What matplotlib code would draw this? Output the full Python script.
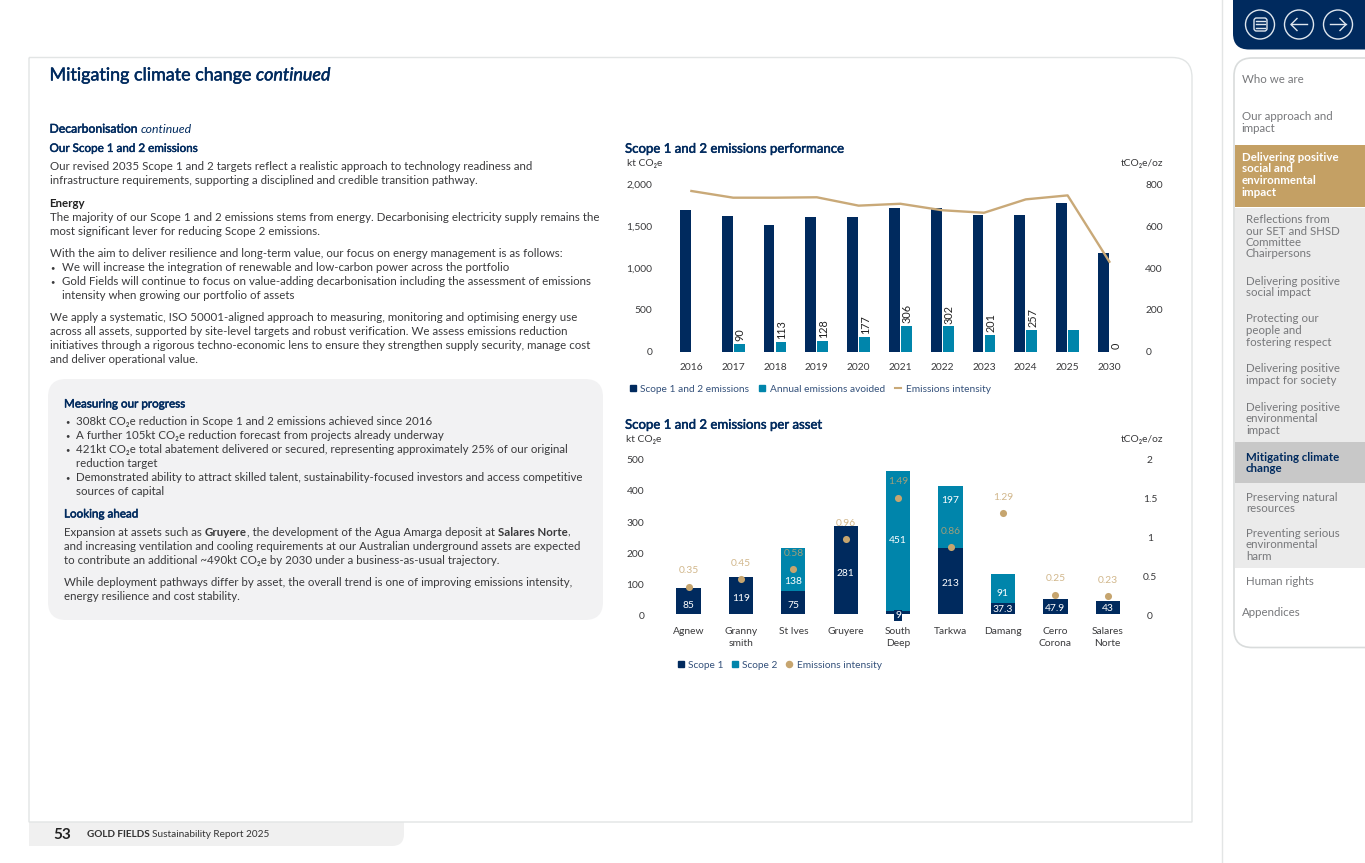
import matplotlib
matplotlib.use("Agg")
import matplotlib.pyplot as plt
import matplotlib.patheffects as pe
from matplotlib.lines import Line2D
from matplotlib.patches import PathPatch, Circle, Rectangle, FancyBboxPatch
from matplotlib.path import Path
from matplotlib.transforms import ScaledTranslation

plt.rcParams['font.family'] = ['Lato', 'DejaVu Sans']

# chart 1 data
years = ["2016", "2017", "2018", "2019", "2020", "2021", "2022", "2023", "2024", "2025", "2030"]
total_emissions = [1690, 1625, 1510, 1613, 1613, 1717, 1713, 1637, 1637, 1781, 1179]
avoided = [0, 90, 113, 128, 177, 306, 302, 201, 257, 255, 0]
avoided_labels = ["", "90", "113", "128", "177", "306", "302", "201", "257", "", "0"]
intensity_line = [768, 736, 736, 738, 698, 707, 676, 664, 728, 747, 430]

# chart 2 data
assets = ["Agnew", "Granny\nsmith", "St Ives", "Gruyere", "South\nDeep", "Tarkwa", "Damang", "Cerro\nCorona", "Salares\nNorte"]
scope1 = [85, 119, 75, 281, 9, 213, 37.3, 47.9, 43]
scope2 = [0, 0, 138, 0, 451, 197, 91, 0, 0]
intensity_dots = [0.35, 0.45, 0.58, 0.96, 1.49, 0.86, 1.29, 0.25, 0.23]

NAVY = "#002a5e"
TEAL = "#0085ab"
TAN = "#c6a56f"
TXT = "#3a3a3c"
NAVTXT = "#77787b"
HEAD = "medium"  # Lato has no medium here, text_line thickens it with a thin stroke

W, H = 1365, 863
BODY = 8.3
CHART = 7.4
fig = plt.figure(figsize=(W / 100, H / 100), dpi=100, facecolor="white")
page = fig.add_axes([0, 0, 1, 1], zorder=0)
page.set_xlim(0, W)
page.set_ylim(H, 0)
page.axis("off")
renderer = fig.canvas.get_renderer()


def round_box(x0, y0, x1, y1, tl=0, tr=0, br=0, bl=0, **kw):
    v = [(x0 + tl, y0), (x1 - tr, y0), (x1, y0), (x1, y0 + tr), (x1, y1 - br), (x1, y1), (x1 - br, y1),
         (x0 + bl, y1), (x0, y1), (x0, y1 - bl), (x0, y0 + tl), (x0, y0), (x0 + tl, y0)]
    c = [Path.MOVETO, Path.LINETO, Path.CURVE3, Path.CURVE3, Path.LINETO, Path.CURVE3, Path.CURVE3,
         Path.LINETO, Path.CURVE3, Path.CURVE3, Path.LINETO, Path.CURVE3, Path.CURVE3]
    page.add_patch(PathPatch(Path(v, c), **kw))


def text_line(x, y, parts, size=BODY, color=TXT):
    # y is the middle of the line, parts is a string or a list of (text, weight, style)
    if isinstance(parts, str):
        parts = [(parts, "normal", "normal")]
    for s, weight, style in parts:
        t = page.text(x, y + size * 0.5, s, fontsize=size, color=color,
                      fontweight="normal" if weight == HEAD else weight, fontstyle=style,
                      va="baseline", ha="left")
        if weight == HEAD:
            t.set_path_effects([pe.withStroke(linewidth=0.35, foreground=color)])
        x += t.get_window_extent(renderer).width


# page furniture
page.plot([1221.5, 1221.5], [0, H], color="#e3e5e5", lw=1)
round_box(29, 822, 404, 846, br=12, facecolor="#f0f0f0", edgecolor="none")
round_box(29, 57.5, 1192, 822, tr=20, facecolor="white", edgecolor="#e2e5e5", lw=1)
round_box(48, 379, 603, 620, tl=18, tr=18, br=18, bl=18, facecolor="#f2f2f3", edgecolor="none")

round_box(1233, -5, 1370, 49.5, bl=16, facecolor=NAVY, edgecolor="none")
round_box(1234, 58, 1375, 647.5, tl=18, bl=18, facecolor="white", edgecolor="#d9dcdc", lw=1.2)
page.add_patch(Rectangle((1234.5, 145.5), 131, 62, facecolor="#c4a064", edgecolor="none"))
page.add_patch(Rectangle((1234.5, 207.5), 131, 360, facecolor="#ebebeb", edgecolor="none"))
page.add_patch(Rectangle((1234.5, 441.5), 131, 41.5, facecolor="#c8c8c8", edgecolor="none"))

for cx in [1260, 1299, 1338]:
    page.add_patch(Circle((cx, 24.5), 14.5, facecolor="none", edgecolor="#dfe6ee", lw=1))
page.add_patch(FancyBboxPatch((1254, 18), 13, 13, boxstyle="round,pad=0,rounding_size=2.5",
                              facecolor="none", edgecolor="#dfe6ee", lw=1))
for yy in [21, 24.5, 28]:
    page.plot([1258, 1265], [yy, yy], color="#dfe6ee", lw=1)
    page.plot([1255.5, 1256.5], [yy, yy], color="#dfe6ee", lw=1)
page.plot([1291, 1307], [24.5, 24.5], color="#dfe6ee", lw=1)
page.plot([1297, 1291, 1297], [18.5, 24.5, 30.5], color="#dfe6ee", lw=1)
page.plot([1330, 1346], [24.5, 24.5], color="#dfe6ee", lw=1)
page.plot([1340, 1346, 1340], [18.5, 24.5, 30.5], color="#dfe6ee", lw=1)

# left hand text
text_line(49.5, 74, [("Mitigating climate change ", HEAD, "normal"), ("continued", HEAD, "italic")], size=12.9, color=NAVY)
text_line(49.5, 128.3, [("Decarbonisation ", HEAD, "normal"), ("continued", "normal", "italic")], size=8.8, color=NAVY)
text_line(49.5, 147.7, [("Our Scope 1 and 2 emissions", HEAD, "normal")], size=8.4, color=NAVY)
text_line(49.5, 202.7, [("Energy", "bold", "normal")], color="#222222")

body_lines = [
    (49.5, 166, "Our revised 2035 Scope 1 and 2 targets reflect a realistic approach to technology readiness and"),
    (49.5, 180, "infrastructure requirements, supporting a disciplined and credible transition pathway."),
    (49.5, 216.7, "The majority of our Scope 1 and 2 emissions stems from energy. Decarbonising electricity supply remains the"),
    (49.5, 230.7, "most significant lever for reducing Scope 2 emissions."),
    (49.5, 253.3, "With the aim to deliver resilience and long-term value, our focus on energy management is as follows:"),
    (61.5, 267.3, "We will increase the integration of renewable and low-carbon power across the portfolio"),
    (61.5, 281.3, "Gold Fields will continue to focus on value-adding decarbonisation including the assessment of emissions"),
    (61.5, 295.3, "intensity when growing our portfolio of assets"),
    (49.5, 317.3, "We apply a systematic, ISO 50001-aligned approach to measuring, monitoring and optimising energy use"),
    (49.5, 331.3, "across all assets, supported by site-level targets and robust verification. We assess emissions reduction"),
    (49.5, 345.3, "initiatives through a rigorous techno-economic lens to ensure they strengthen supply security, manage cost"),
    (49.5, 359.3, "and deliver operational value."),
    (76, 421, "308kt CO₂e reduction in Scope 1 and 2 emissions achieved since 2016"),
    (76, 435.3, "A further 105kt CO₂e reduction forecast from projects already underway"),
    (76, 449.3, "421kt CO₂e total abatement delivered or secured, representing approximately 25% of our original"),
    (76, 463.3, "reduction target"),
    (76, 477, "Demonstrated ability to attract skilled talent, sustainability-focused investors and access competitive"),
    (76, 491.3, "sources of capital"),
    (64, 546, "and increasing ventilation and cooling requirements at our Australian underground assets are expected"),
    (64, 560, "to contribute an additional ~490kt CO₂e by 2030 under a business-as-usual trajectory."),
    (64, 582.3, "While deployment pathways differ by asset, the overall trend is one of improving emissions intensity,"),
    (64, 595.7, "energy resilience and cost stability."),
]
for x, y, s in body_lines:
    text_line(x, y, s)
for x, y in [(50, 267.3), (50, 281.3), (65, 421), (65, 435.3), (65, 449.3), (65, 477)]:
    text_line(x, y, "•", size=5.5)
text_line(64, 403.3, [("Measuring our progress", HEAD, "normal")], size=8.4, color=NAVY)
text_line(64, 513.3, [("Looking ahead", HEAD, "normal")], size=8.4, color=NAVY)
text_line(64, 531.7, [("Expansion at assets such as ", "normal", "normal"), ("Gruyere", "bold", "normal"),
                      (", the development of the Agua Amarga deposit at ", "normal", "normal"),
                      ("Salares Norte", "bold", "normal"), (",", "normal", "normal")])

# side navigation
nav_lines = [
    (1241.7, 79, "Who we are"), (1241.7, 116, "Our approach and"), (1241.7, 128, "impact"),
    (1246, 219, "Reflections from"), (1246, 230.7, "our SET and SHSD"), (1246, 242, "Committee"), (1246, 253.3, "Chairpersons"),
    (1246, 281, "Delivering positive"), (1246, 292.3, "social impact"),
    (1246, 318.3, "Protecting our"), (1246, 330, "people and"), (1246, 341.7, "fostering respect"),
    (1246, 368.3, "Delivering positive"), (1246, 380, "impact for society"),
    (1246, 406.7, "Delivering positive"), (1246, 418.3, "environmental"), (1246, 430, "impact"),
    (1246, 496.7, "Preserving natural"), (1246, 508.3, "resources"),
    (1246, 532.7, "Preventing serious"), (1246, 544.3, "environmental"), (1246, 556, "harm"),
    (1246, 580.7, "Human rights"), (1241.7, 612.3, "Appendices"),
]
for x, y, s in nav_lines:
    text_line(x, y, s, color=NAVTXT)
for y, s in [(156.7, "Delivering positive"), (168, "social and"), (180, "environmental"), (191.7, "impact")]:
    text_line(1241.7, y, [(s, "bold", "normal")], color="white")
for y, s in [(456.7, "Mitigating climate"), (468.3, "change")]:
    text_line(1246, y, [(s, "bold", "normal")], color=NAVY)

# footer
text_line(53, 833.3, [("53", "bold", "normal")], size=11, color="#222222")
text_line(87, 833.3, [("GOLD FIELDS ", "bold", "normal"), ("Sustainability Report 2025", "normal", "normal")], size=7.2, color="#333333")


def chart_axes(l, t, r, b):
    ax = fig.add_axes([l / W, 1 - b / H, (r - l) / W, (b - t) / H], zorder=2)
    ax.patch.set_alpha(0)
    for s in ax.spines.values():
        s.set_visible(False)
    return ax


# chart 1
text_line(625, 148, [("Scope 1 and 2 emissions performance", HEAD, "normal")], size=9.5, color=NAVY)
text_line(627, 162, "kt CO₂e", size=CHART)
text_line(1121, 162, "tCO₂e/oz", size=CHART)

ax1 = chart_axes(670.5, 184.3, 1130.3, 351.7)
pos = range(len(years))
ax1.bar([p - 0.145 for p in pos], total_emissions, width=0.26, color=NAVY)
ax1.bar([p + 0.145 for p in pos], avoided, width=0.26, color=TEAL)
for p, v, lab in zip(pos, avoided, avoided_labels):
    ax1.annotate(lab, (p + 0.145, v), xytext=(0.5, 2), textcoords="offset points", rotation=90,
                 ha="center", va="bottom", fontsize=7.8, color="#222222")
ax1.set_xlim(-0.5, 10.5)
ax1.set_ylim(0, 2000)
ax1.set_xticks(list(pos), years)
ax1.set_yticks([0, 500, 1000, 1500, 2000], ["0", "500", "1,000", "1,500", "2,000"])
ax1.tick_params(axis="x", length=0, pad=8.3, labelsize=CHART, labelcolor=TXT)
ax1.tick_params(axis="y", length=0, pad=13, labelsize=CHART, labelcolor=TXT)

ax1r = ax1.twinx()
ax1r.patch.set_alpha(0)
for s in ax1r.spines.values():
    s.set_visible(False)
ax1r.plot(list(pos), intensity_line, color="#c9a978", lw=1.7)
ax1r.set_ylim(0, 800)
ax1r.set_yticks([0, 200, 400, 600, 800])
ax1r.tick_params(axis="y", length=0, pad=10.8, labelsize=CHART, labelcolor=TXT)

handles1 = [Line2D([], [], ls="none", marker="s", ms=4, color=NAVY),
            Line2D([], [], ls="none", marker="s", ms=4, color=TEAL),
            Line2D([], [], color="#c9a978", lw=1.5)]
fig.legend(handles1, ["Scope 1 and 2 emissions", "Annual emissions avoided", "Emissions intensity"],
           loc="center left", bbox_to_anchor=(629.5 / W, 1 - 389.5 / H), ncols=3, frameon=False, fontsize=7.3,
           labelcolor="#33507a", borderpad=0, borderaxespad=0, handlelength=0.6, handletextpad=0.45, columnspacing=1.0)

# chart 2
text_line(625, 424, [("Scope 1 and 2 emissions per asset", HEAD, "normal")], size=9.5, color=NAVY)
text_line(625.7, 438, "kt CO₂e", size=CHART)
text_line(1121, 438, "tCO₂e/oz", size=CHART)

ax2 = chart_axes(662.3, 458, 1134, 614.3)
pos2 = list(range(len(assets)))
ax2.bar(pos2, scope1, width=0.464, color=NAVY)
ax2.bar(pos2, scope2, width=0.464, bottom=scope1, color=TEAL)
# labels do not sit exactly mid bar in the original, nudged in points
nudge1 = [-3, -2, -2, -2, -2, -2, -1, -1, -1]
nudge2 = [0, 0, -9, 0, 0, 12, -3.5, 0, 0]
for p, a, b, n1, n2 in zip(pos2, scope1, scope2, nudge1, nudge2):
    box = dict(facecolor=NAVY, edgecolor="none", pad=0.6) if a < 20 else None
    ax2.annotate(f"{a:g}", (p, a / 2), xytext=(0, n1), textcoords="offset points", ha="center", va="center",
                 fontsize=CHART, color="white", bbox=box)
    if b:
        ax2.annotate(f"{b:g}", (p, a + b / 2), xytext=(0, n2), textcoords="offset points", ha="center", va="center",
                     fontsize=CHART, color="white")
ax2.set_xlim(-0.5, 8.5)
ax2.set_ylim(0, 500)
ax2.set_xticks(pos2, assets, linespacing=1.45)
ax2.set_yticks([0, 100, 200, 300, 400, 500])
ax2.tick_params(axis="x", length=0, pad=9.2, labelsize=CHART, labelcolor=TXT)
ax2.tick_params(axis="y", length=0, pad=13, labelsize=CHART, labelcolor=TXT)

ax2r = ax2.twinx()
ax2r.patch.set_alpha(0)
for s in ax2r.spines.values():
    s.set_visible(False)
ax2r.scatter(pos2, intensity_dots, s=26, color=TAN, linewidths=0, zorder=3)
for p, v in zip(pos2, intensity_dots):
    ax2r.annotate(f"{v:g}", (p, v), xytext=(0, 11.5), textcoords="offset points", ha="center", va="center",
                  fontsize=CHART, color=TAN, alpha=0.8)
ax2r.set_ylim(0, 2)
ax2r.set_yticks([0, 0.5, 1, 1.5, 2], ["0", "0.5", "1", "1.5", "2"])
ax2r.tick_params(axis="y", length=0, pad=11.5, labelsize=CHART, labelcolor=TXT)
for lab in ax2r.get_yticklabels():
    lab.set_ha("center")
# the tick labels of this chart sit a little under the bar baseline in the original
for lab in ax2.get_yticklabels() + ax2r.get_yticklabels():
    lab.set_transform(lab.get_transform() + ScaledTranslation(0, -1.6 / 100, fig.dpi_scale_trans))

handles2 = [Line2D([], [], ls="none", marker="s", ms=4, color=NAVY),
            Line2D([], [], ls="none", marker="s", ms=4, color=TEAL),
            Line2D([], [], ls="none", marker="o", ms=4.4, color=TAN)]
fig.legend(handles2, ["Scope 1", "Scope 2", "Emissions intensity"],
           loc="center left", bbox_to_anchor=(677.5 / W, 1 - 665 / H), ncols=3, frameon=False, fontsize=7.3,
           labelcolor="#33507a", borderpad=0, borderaxespad=0, handlelength=0.6, handletextpad=0.45, columnspacing=0.8)

fig.savefig("out.png", dpi=100)
